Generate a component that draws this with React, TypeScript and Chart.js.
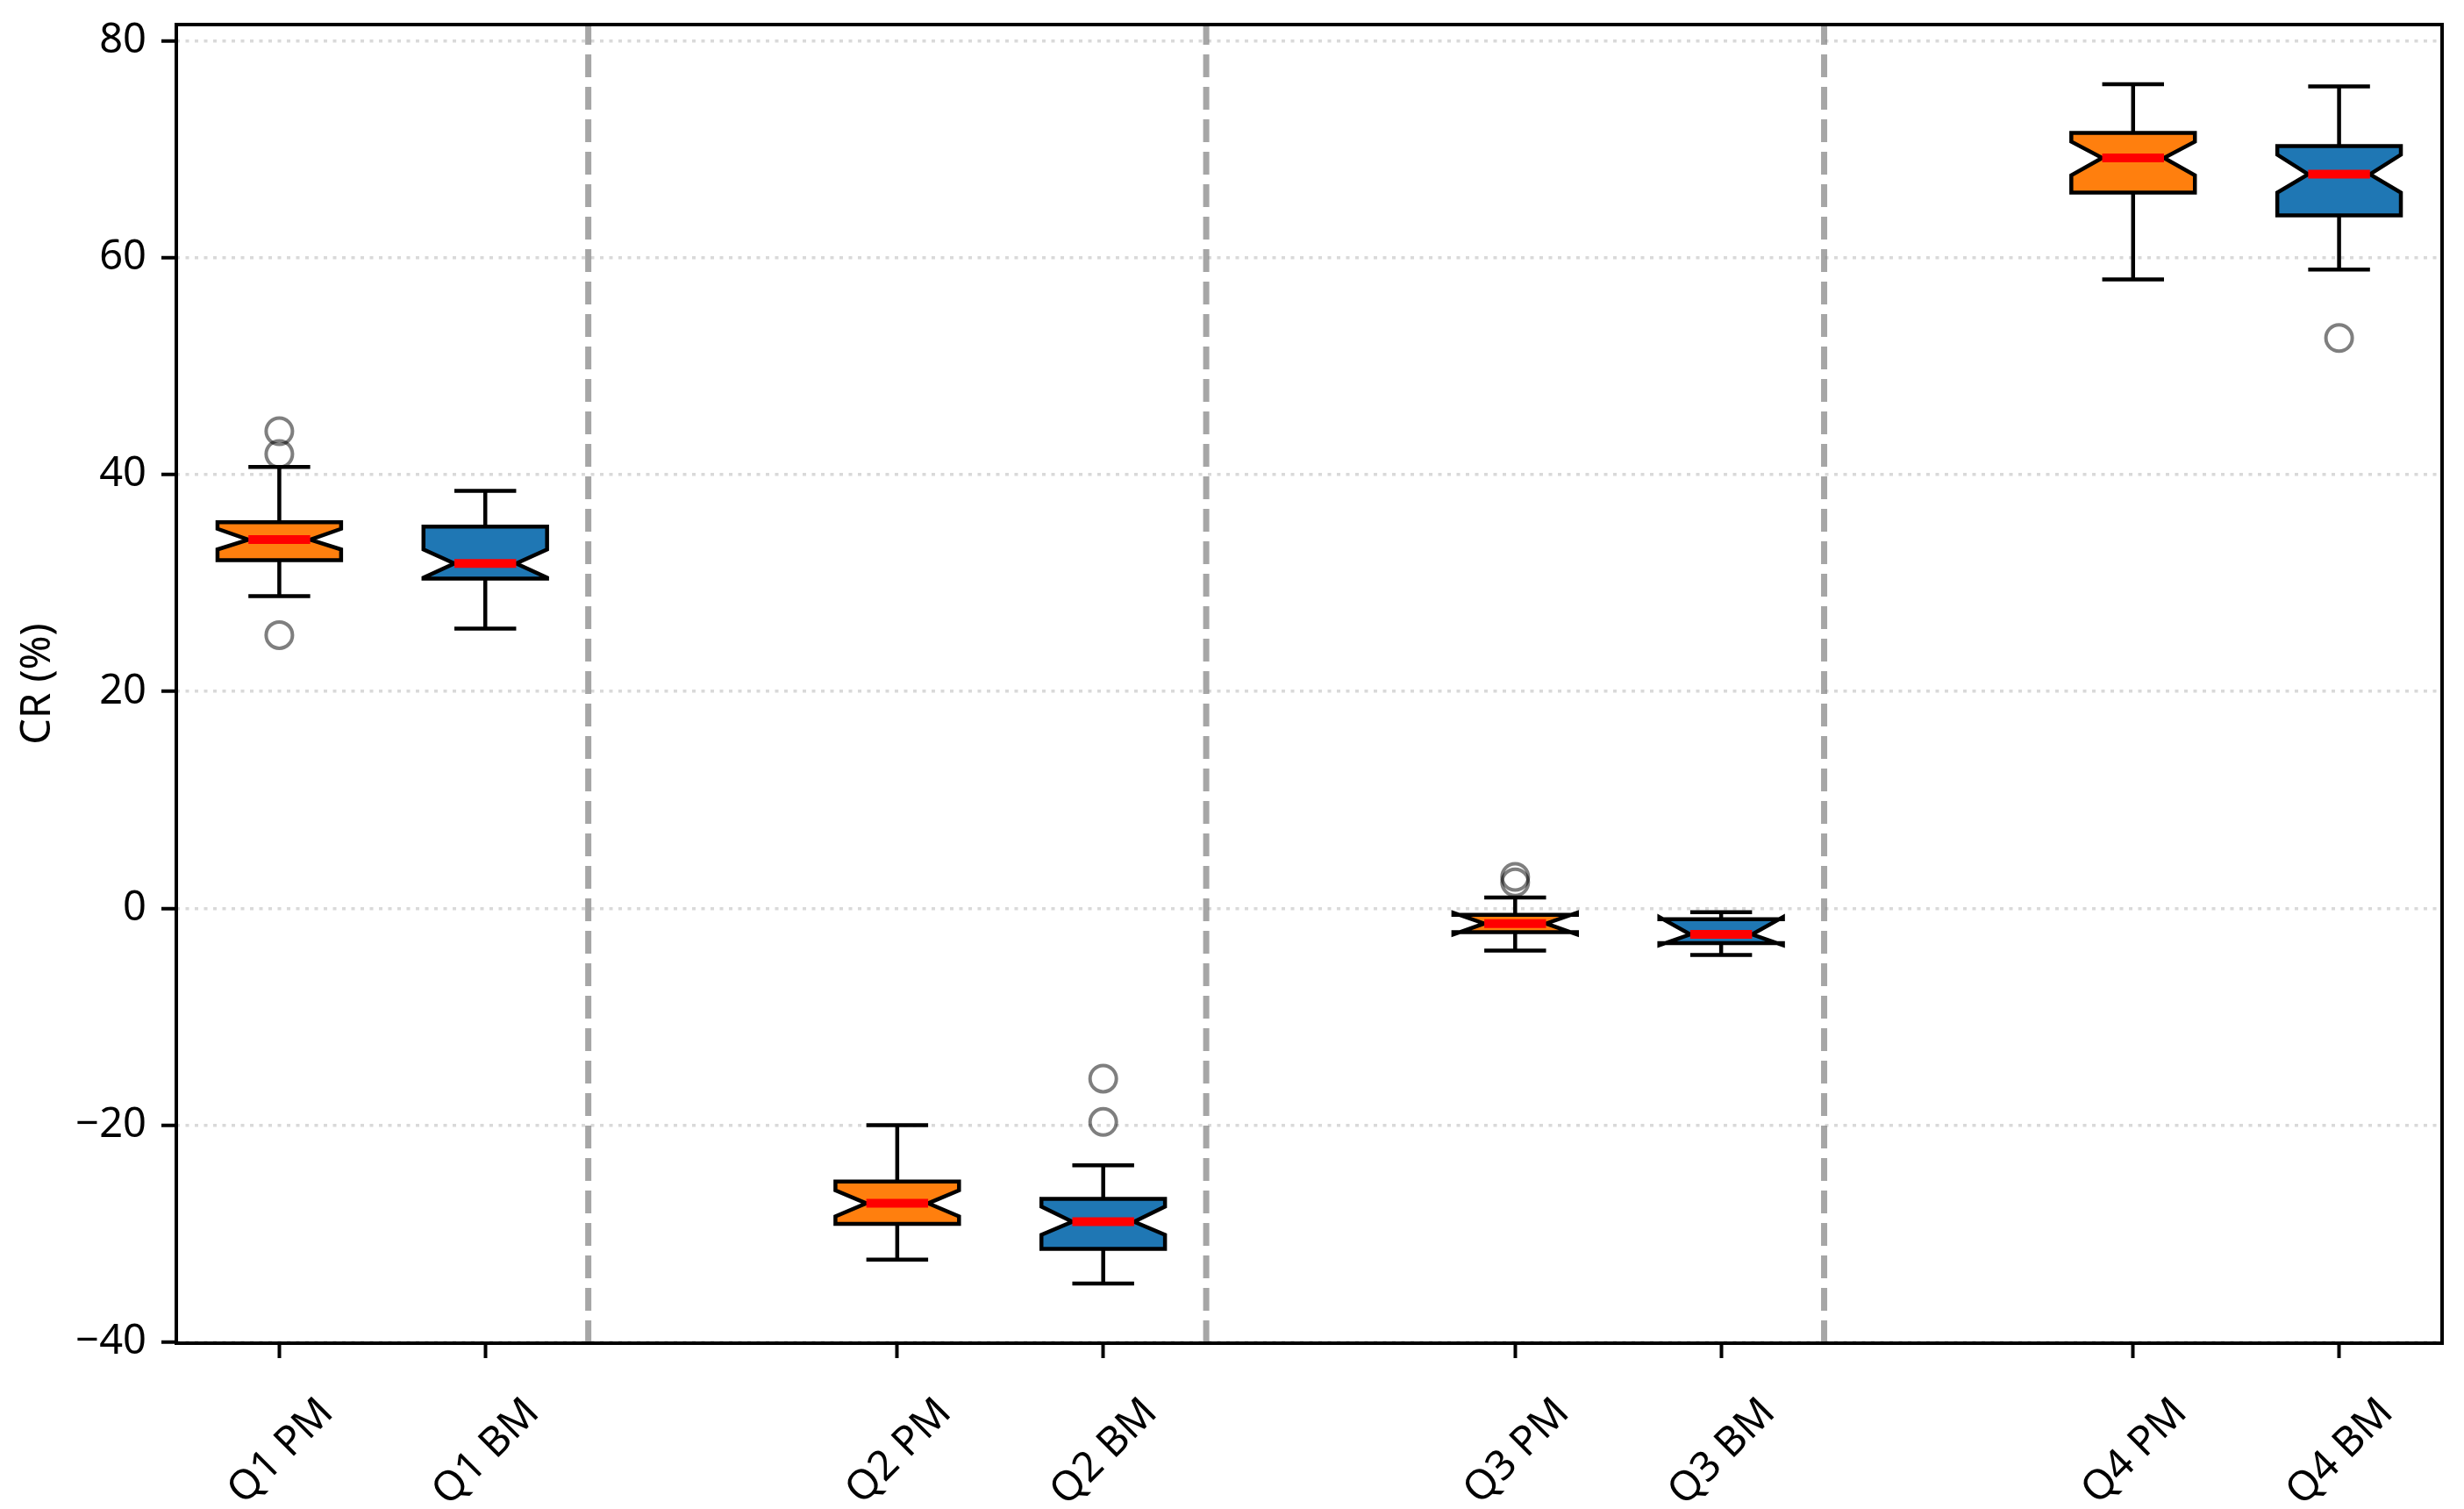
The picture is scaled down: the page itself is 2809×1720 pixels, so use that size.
import React, { useEffect, useRef } from 'react';
import { Chart, registerables } from 'chart.js';

Chart.register(...registerables);

// ---- data ----
const categories = ['Q1 PM', 'Q1 BM', 'Q2 PM', 'Q2 BM', 'Q3 PM', 'Q3 BM', 'Q4 PM', 'Q4 BM'];
const positions = [1, 2, 4, 5, 7, 8, 10, 11];
const whiskerLow = [28.8, 25.8, -32.4, -34.6, -3.9, -4.3, 58.0, 58.9];
const q1 = [32.1, 30.4, -29.1, -31.4, -2.2, -3.2, 66.0, 63.9];
const median = [34.0, 31.8, -27.2, -28.9, -1.4, -2.4, 69.2, 67.7];
const q3 = [35.6, 35.2, -25.2, -26.8, -0.6, -1.0, 71.5, 70.3];
const whiskerHigh = [40.7, 38.5, -20.0, -23.7, 1.0, -0.35, 76.0, 75.8];
const notchLow = [33.1, 30.5, -28.4, -30.1, -2.4, -3.4, 67.6, 66.0];
const notchHigh = [35.0, 33.1, -26.0, -27.5, -0.4, -0.8, 70.7, 69.5];
const outlierPos = [1, 1, 1, 5, 5, 7, 7, 11];
const outlierVal = [44.0, 41.9, 25.2, -15.7, -19.7, 2.9, 2.4, 52.6];
const separators = [2.5, 5.5, 8.5];
const yTicks = [-40, -20, 0, 20, 40, 60, 80];
const boxColors = ['#ff7f0e', '#1f77b4', '#ff7f0e', '#1f77b4', '#ff7f0e', '#1f77b4', '#ff7f0e', '#1f77b4'];

const FONT = 'Noto Sans';
const FS = 47;
const LW = 4.5;

export default function App() {
  const ref = useRef<HTMLCanvasElement>(null);

  useEffect(() => {
    const canvas = ref.current;
    if (!canvas) return;

    const boxPlugin = {
      id: 'boxPlugin',
      beforeDatasetsDraw(chart: any) {
        const { ctx, chartArea } = chart;
        const xs = chart.scales.x;
        const ys = chart.scales.y;
        ctx.save();
        ctx.beginPath();
        ctx.rect(chartArea.left, chartArea.top, chartArea.right - chartArea.left, chartArea.bottom - chartArea.top);
        ctx.clip();

        // vertical dashed separators
        ctx.strokeStyle = 'rgba(128,128,128,0.7)';
        ctx.lineWidth = 7;
        ctx.setLineDash([26, 11]);
        for (const s of separators) {
          const px = xs.getPixelForValue(s);
          ctx.beginPath();
          ctx.moveTo(px, chartArea.bottom);
          ctx.lineTo(px, chartArea.top);
          ctx.stroke();
        }
        ctx.setLineDash([]);

        for (let i = 0; i < positions.length; i++) {
          const p = positions[i];
          const cx = xs.getPixelForValue(p);
          const left = xs.getPixelForValue(p - 0.3);
          const right = xs.getPixelForValue(p + 0.3);
          const inL = xs.getPixelForValue(p - 0.15);
          const inR = xs.getPixelForValue(p + 0.15);
          const yQ1 = ys.getPixelForValue(q1[i]);
          const yQ3 = ys.getPixelForValue(q3[i]);
          const yMed = ys.getPixelForValue(median[i]);
          const yNL = ys.getPixelForValue(notchLow[i]);
          const yNH = ys.getPixelForValue(notchHigh[i]);
          const yWL = ys.getPixelForValue(whiskerLow[i]);
          const yWH = ys.getPixelForValue(whiskerHigh[i]);

          ctx.strokeStyle = '#000';
          ctx.lineWidth = LW;
          ctx.lineCap = 'butt';
          // whiskers
          ctx.beginPath();
          ctx.moveTo(cx, yQ1);
          ctx.lineTo(cx, yWL);
          ctx.moveTo(cx, yQ3);
          ctx.lineTo(cx, yWH);
          ctx.stroke();
          // caps
          ctx.beginPath();
          ctx.moveTo(inL, yWL);
          ctx.lineTo(inR, yWL);
          ctx.moveTo(inL, yWH);
          ctx.lineTo(inR, yWH);
          ctx.stroke();

          // notched box
          ctx.beginPath();
          ctx.moveTo(left, yQ1);
          ctx.lineTo(left, yNL);
          ctx.lineTo(inL, yMed);
          ctx.lineTo(left, yNH);
          ctx.lineTo(left, yQ3);
          ctx.lineTo(right, yQ3);
          ctx.lineTo(right, yNH);
          ctx.lineTo(inR, yMed);
          ctx.lineTo(right, yNL);
          ctx.lineTo(right, yQ1);
          ctx.closePath();
          ctx.fillStyle = boxColors[i];
          ctx.fill();
          ctx.lineJoin = 'miter';
          ctx.stroke();

          // median
          ctx.strokeStyle = '#ff0000';
          ctx.lineWidth = 10;
          ctx.beginPath();
          ctx.moveTo(inL, yMed);
          ctx.lineTo(inR, yMed);
          ctx.stroke();
        }
        ctx.restore();
      },
      afterDraw(chart: any) {
        const { ctx, chartArea } = chart;
        ctx.save();
        ctx.strokeStyle = '#000';
        ctx.lineWidth = 4;
        ctx.lineJoin = 'miter';
        ctx.strokeRect(chartArea.left, chartArea.top, chartArea.right - chartArea.left, chartArea.bottom - chartArea.top);
        ctx.restore();
      },
    };

    const chart = new Chart(canvas, {
      type: 'scatter',
      data: {
        datasets: [
          {
            label: 'outliers',
            data: outlierPos.map((x, i) => ({ x, y: outlierVal[i] })),
            pointStyle: 'circle',
            pointRadius: 15,
            pointBorderWidth: 4,
            pointBorderColor: 'rgba(0,0,0,0.5)',
            pointBackgroundColor: 'rgba(0,0,0,0)',
            pointHoverRadius: 15,
          },
        ],
      },
      options: {
        animation: false,
        responsive: false,
        devicePixelRatio: 1,
        layout: { padding: { top: 28, right: 25, left: 0, bottom: 0 } },
        plugins: { legend: { display: false }, tooltip: { enabled: false } },
        scales: {
          x: {
            type: 'linear',
            min: 0.5,
            max: 11.5,
            afterBuildTicks: (s: any) => {
              s.ticks = positions.map((v) => ({ value: v }));
            },
            afterFit: (s: any) => {
              s.height = 189;
              s.paddingLeft = 0;
              s.paddingRight = 0;
              s.paddingTop = 0;
              s.paddingBottom = 0;
            },
            grid: {
              drawOnChartArea: false,
              drawTicks: true,
              tickLength: 17,
              tickWidth: 4,
              tickColor: '#000',
            },
            border: { display: false },
            ticks: {
              autoSkip: false,
              minRotation: 45,
              maxRotation: 45,
              padding: 35,
              labelOffset: 54,
              color: '#000',
              font: { family: FONT, size: FS },
              callback: (v: any) => {
                const idx = positions.indexOf(Number(v));
                return idx >= 0 ? categories[idx] : '';
              },
            },
          },
          y: {
            type: 'linear',
            min: -40.1,
            max: 81.5,
            afterBuildTicks: (s: any) => {
              s.ticks = yTicks.map((v) => ({ value: v }));
            },
            afterFit: (s: any) => {
              s.width = 201;
              s.paddingTop = 0;
              s.paddingBottom = 0;
              s.paddingLeft = 0;
              s.paddingRight = 0;
            },
            grid: {
              color: '#d9d9d9',
              lineWidth: 3.5,
              drawTicks: true,
              tickLength: 17,
              tickWidth: 4,
              tickColor: '#000',
              tickBorderDash: [],
            },
            border: { display: false, dash: [4, 6.5] },
            ticks: {
              padding: 17,
              color: '#000',
              font: { family: FONT, size: FS },
              callback: (v: any) => (Number(v) < 0 ? '\u2212' + Math.abs(Number(v)) : String(v)),
            },
            title: {
              display: true,
              text: 'CR (%)',
              color: '#000',
              font: { family: FONT, size: FS },
              padding: { top: 15, bottom: 0 },
            },
          },
        },
      },
      plugins: [boxPlugin],
    } as any);

    return () => {
      chart.destroy();
    };
  }, []);

  return (
    <div style={{ position: 'absolute', left: 0, top: 0, width: 2809, height: 1720, background: '#fff' }}>
      <canvas ref={ref} width={2809} height={1720} style={{ display: 'block', width: 2809, height: 1720 }} />
    </div>
  );
}
